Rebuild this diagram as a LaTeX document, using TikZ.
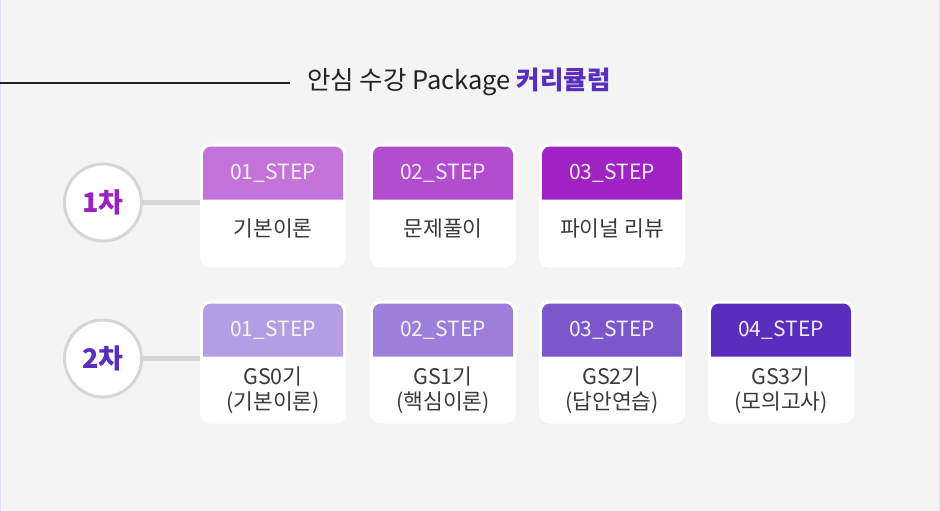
\documentclass[tikz,border=0pt]{standalone}
\usepackage{fontspec}
\setmainfont{Noto Sans CJK KR}
\definecolor{bg}{HTML}{F4F4F4}
\definecolor{lav}{HTML}{E4DDF7}
\definecolor{ink}{HTML}{222222}
\definecolor{bodyink}{HTML}{3A3A3A}
\definecolor{accent}{HTML}{5A2EBD}
\definecolor{ringgray}{HTML}{D6D6D6}
\definecolor{pA}{HTML}{C474D9}
\definecolor{pB}{HTML}{B24DCF}
\definecolor{pC}{HTML}{9F22C2}
\definecolor{vA}{HTML}{B39EE3}
\definecolor{vB}{HTML}{9B7FDB}
\definecolor{vC}{HTML}{7C57CC}
\definecolor{vD}{HTML}{5A2EBD}
\definecolor{oneclr}{HTML}{9B22C0}
\tikzset{
  card/.style={rectangle, rounded corners=10pt, fill=white, minimum width=146pt, inner sep=0pt},
  hdr/.style={text=white, text opacity=0.9, font=\fontsize{21}{25}\selectfont, inner sep=0pt},
  bdy/.style={text=bodyink, font=\fontsize{21.5}{25}\selectfont, align=center, inner sep=0pt},
  circ/.style={circle, draw=ringgray, line width=3pt, fill=white, minimum size=77pt, inner sep=0pt, font=\fontsize{27}{30}\selectfont\bfseries},
  conn/.style={draw=ringgray, line width=5pt}
}
% #1 name, #2 center x, #3 top y, #4 height, #5 colour, #6 header text, #7 body text, #8 body centre y
\newcommand\stepcard[8]{%
  \node[card, minimum height=#4 pt] (#1) at (#2,{-(#3+#4/2)}) {};
  \fill[#5] ({#2-70},{-(#3+56)}) -- ({#2-70},{-(#3+11)})
    arc[start angle=180,end angle=90,radius=8] -- ({#2+62},{-(#3+3)})
    arc[start angle=90,end angle=0,radius=8] -- ({#2+70},{-(#3+56)}) -- cycle;
  \node[hdr] (#1h) at (#2,{-(#3+30)}) {#6};
  \node[bdy] (#1b) at (#2,{-#8}) {#7};
}
\begin{document}
\begin{tikzpicture}[x=1pt,y=1pt]
\fill[bg] (0,0) rectangle (940,-510);
\draw[lav, line width=1pt] (0.5,0) -- (0.5,-510);
\draw[lav, line width=1pt] (939.5,0) -- (939.5,-510);
\useasboundingbox (0,0) rectangle (940,-510);

% title
\node[anchor=west, text=ink, font=\fontsize{25.5}{30}\selectfont, inner sep=0pt] (title) at (307,-81)
  {안심 수강 Package \textcolor{accent}{\bfseries 커리큘럼}};
\coordinate (ls) at (0,-83);
\coordinate (le) at (290,-83);
\draw[ink, line width=2pt] (ls) -- (le);

% row 1
\node[circ, text=oneclr] (r1) at (103,-202) {1차};
\stepcard{s11}{273}{143}{124}{pA}{01\_STEP}{기본이론}{228}
\stepcard{s12}{443}{143}{124}{pB}{02\_STEP}{문제풀이}{228}
\stepcard{s13}{612}{143}{124}{pC}{03\_STEP}{파이널 리뷰}{228}
\draw[conn] (r1.east) -- (r1.east -| s11.west);

% row 2
\node[circ, text=accent] (r2) at (103,-358) {2차};
\stepcard{s21}{273}{300}{123}{vA}{01\_STEP}{GS0기\\(기본이론)}{389.5}
\stepcard{s22}{443}{300}{123}{vB}{02\_STEP}{GS1기\\(핵심이론)}{389.5}
\stepcard{s23}{612}{300}{123}{vC}{03\_STEP}{GS2기\\(답안연습)}{389.5}
\stepcard{s24}{781}{300}{123}{vD}{04\_STEP}{GS3기\\(모의고사)}{389.5}
\draw[conn] (r2.east) -- (r2.east -| s21.west);
\end{tikzpicture}
\end{document}
